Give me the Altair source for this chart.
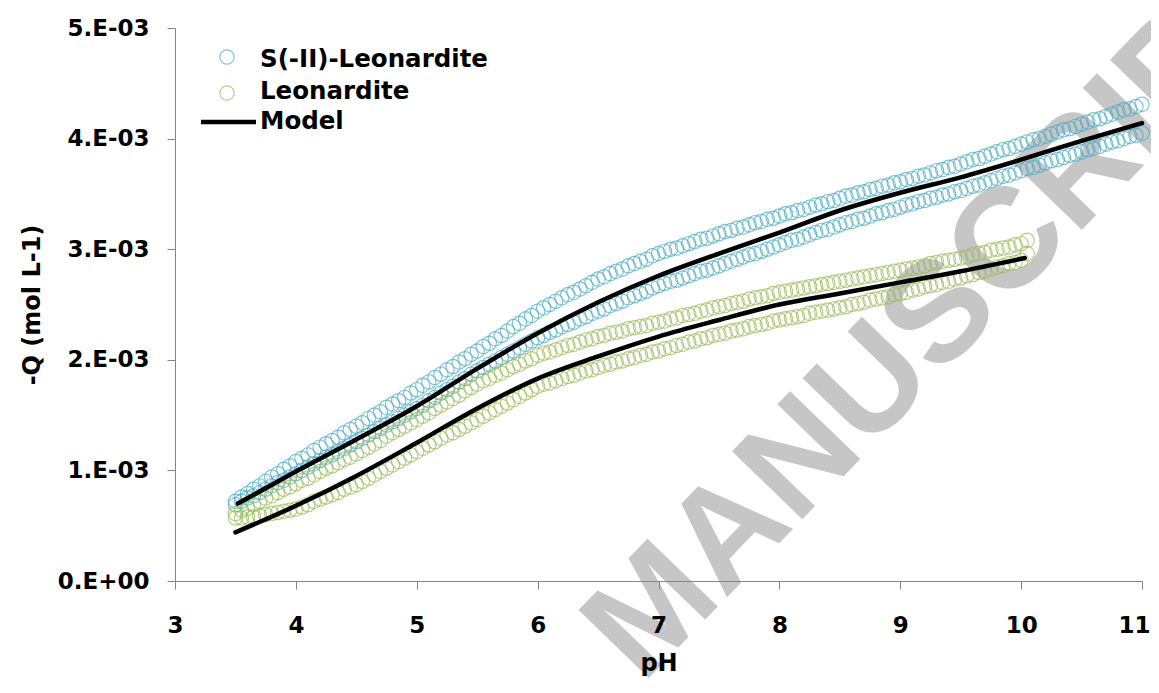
import json
import altair as alt
import pandas as pd

# ---------------- data (Q in units of 1e-3 mol/L) ----------------
ph_grid = [
    3.50, 3.55, 3.60, 3.65, 3.70, 3.75, 3.80, 3.85, 3.90, 3.95,
    4.00, 4.05, 4.10, 4.15, 4.20, 4.25, 4.30, 4.35, 4.40, 4.45,
    4.50, 4.55, 4.60, 4.65, 4.70, 4.75, 4.80, 4.85, 4.90, 4.95,
    5.00, 5.05, 5.10, 5.15, 5.20, 5.25, 5.30, 5.35, 5.40, 5.45,
    5.50, 5.55, 5.60, 5.65, 5.70, 5.75, 5.80, 5.85, 5.90, 5.95,
    6.00, 6.05, 6.10, 6.15, 6.20, 6.25, 6.30, 6.35, 6.40, 6.45,
    6.50, 6.55, 6.60, 6.65, 6.70, 6.75, 6.80, 6.85, 6.90, 6.95,
    7.00, 7.05, 7.10, 7.15, 7.20, 7.25, 7.30, 7.35, 7.40, 7.45,
    7.50, 7.55, 7.60, 7.65, 7.70, 7.75, 7.80, 7.85, 7.90, 7.95,
    8.00, 8.05, 8.10, 8.15, 8.20, 8.25, 8.30, 8.35, 8.40, 8.45,
    8.50, 8.55, 8.60, 8.65, 8.70, 8.75, 8.80, 8.85, 8.90, 8.95,
    9.00, 9.05, 9.10, 9.15, 9.20, 9.25, 9.30, 9.35, 9.40, 9.45,
    9.50, 9.55, 9.60, 9.65, 9.70, 9.75, 9.80, 9.85, 9.90, 9.95,
    10.00, 10.05, 10.10, 10.15, 10.20, 10.25, 10.30, 10.35, 10.40, 10.45,
    10.50, 10.55, 10.60, 10.65, 10.70, 10.75, 10.80, 10.85, 10.90, 10.95,
    11.00,
]

# S(-II)-Leonardite, upper branch (pH 3.50 ... 11.00)
s_upper = [
    0.72, 0.76, 0.79, 0.83, 0.86, 0.90, 0.94, 0.97, 1.01, 1.04,
    1.08, 1.11, 1.14, 1.18, 1.21, 1.24, 1.27, 1.30, 1.34, 1.37,
    1.40, 1.43, 1.47, 1.50, 1.53, 1.57, 1.60, 1.63, 1.66, 1.70,
    1.73, 1.77, 1.80, 1.84, 1.87, 1.91, 1.94, 1.98, 2.01, 2.05,
    2.08, 2.12, 2.15, 2.19, 2.22, 2.26, 2.30, 2.33, 2.37, 2.40,
    2.44, 2.47, 2.50, 2.53, 2.56, 2.59, 2.61, 2.64, 2.67, 2.70,
    2.73, 2.75, 2.78, 2.80, 2.82, 2.85, 2.87, 2.89, 2.91, 2.94,
    2.96, 2.98, 3.00, 3.01, 3.03, 3.05, 3.07, 3.09, 3.10, 3.12,
    3.14, 3.16, 3.17, 3.19, 3.20, 3.22, 3.24, 3.25, 3.27, 3.28,
    3.30, 3.32, 3.33, 3.35, 3.36, 3.38, 3.40, 3.41, 3.43, 3.44,
    3.46, 3.48, 3.49, 3.51, 3.52, 3.54, 3.55, 3.57, 3.58, 3.60,
    3.61, 3.63, 3.64, 3.66, 3.67, 3.69, 3.71, 3.72, 3.74, 3.75,
    3.77, 3.79, 3.81, 3.82, 3.84, 3.86, 3.88, 3.90, 3.91, 3.93,
    3.95, 3.97, 3.99, 4.00, 4.02, 4.04, 4.06, 4.08, 4.09, 4.11,
    4.13, 4.15, 4.17, 4.18, 4.20, 4.22, 4.24, 4.26, 4.27, 4.29,
    4.31,
]

# S(-II)-Leonardite, lower branch (pH 3.50 ... 11.00)
s_lower = [
    0.69, 0.72, 0.75, 0.77, 0.80, 0.83, 0.86, 0.89, 0.91, 0.94,
    0.97, 1.00, 1.03, 1.06, 1.09, 1.12, 1.14, 1.17, 1.20, 1.23,
    1.26, 1.29, 1.32, 1.35, 1.38, 1.41, 1.44, 1.47, 1.50, 1.53,
    1.56, 1.59, 1.63, 1.66, 1.70, 1.73, 1.76, 1.80, 1.83, 1.87,
    1.90, 1.93, 1.96, 1.99, 2.02, 2.05, 2.08, 2.11, 2.14, 2.17,
    2.20, 2.22, 2.25, 2.27, 2.30, 2.32, 2.34, 2.37, 2.39, 2.42,
    2.44, 2.46, 2.49, 2.51, 2.53, 2.56, 2.58, 2.60, 2.62, 2.65,
    2.67, 2.69, 2.71, 2.72, 2.74, 2.76, 2.78, 2.80, 2.81, 2.83,
    2.85, 2.87, 2.89, 2.91, 2.93, 2.95, 2.96, 2.98, 3.00, 3.02,
    3.04, 3.06, 3.08, 3.09, 3.11, 3.13, 3.15, 3.17, 3.18, 3.20,
    3.22, 3.24, 3.25, 3.27, 3.28, 3.30, 3.32, 3.33, 3.35, 3.36,
    3.38, 3.40, 3.41, 3.43, 3.44, 3.46, 3.47, 3.49, 3.50, 3.52,
    3.53, 3.55, 3.57, 3.58, 3.60, 3.62, 3.64, 3.66, 3.67, 3.69,
    3.71, 3.73, 3.74, 3.76, 3.78, 3.80, 3.81, 3.83, 3.85, 3.86,
    3.88, 3.90, 3.91, 3.93, 3.95, 3.97, 3.98, 4.00, 4.02, 4.03,
    4.05,
]

# Leonardite, upper branch (pH 3.50 ... 10.05)
l_upper = [
    0.61, 0.64, 0.66, 0.69, 0.72, 0.75, 0.77, 0.80, 0.83, 0.85,
    0.88, 0.91, 0.93, 0.96, 0.99, 1.02, 1.04, 1.07, 1.10, 1.12,
    1.15, 1.18, 1.21, 1.24, 1.27, 1.31, 1.34, 1.37, 1.40, 1.43,
    1.46, 1.49, 1.52, 1.56, 1.59, 1.62, 1.65, 1.68, 1.72, 1.75,
    1.78, 1.81, 1.83, 1.86, 1.88, 1.91, 1.94, 1.96, 1.99, 2.01,
    2.04, 2.06, 2.07, 2.09, 2.11, 2.13, 2.14, 2.16, 2.18, 2.19,
    2.21, 2.22, 2.24, 2.25, 2.26, 2.28, 2.29, 2.30, 2.31, 2.33,
    2.34, 2.35, 2.37, 2.38, 2.40, 2.41, 2.42, 2.44, 2.45, 2.47,
    2.48, 2.49, 2.51, 2.52, 2.53, 2.55, 2.56, 2.57, 2.58, 2.60,
    2.61, 2.62, 2.63, 2.64, 2.65, 2.66, 2.67, 2.68, 2.69, 2.70,
    2.71, 2.72, 2.73, 2.74, 2.75, 2.76, 2.77, 2.78, 2.79, 2.80,
    2.81, 2.82, 2.83, 2.84, 2.85, 2.87, 2.88, 2.89, 2.90, 2.91,
    2.92, 2.93, 2.95, 2.96, 2.97, 2.99, 3.00, 3.01, 3.02, 3.04,
    3.05, 3.08,
]

# Leonardite, lower branch (pH 3.50 ... 10.05)
l_lower = [
    0.57, 0.57, 0.58, 0.58, 0.59, 0.60, 0.61, 0.62, 0.63, 0.64,
    0.65, 0.67, 0.69, 0.72, 0.74, 0.76, 0.78, 0.80, 0.83, 0.85,
    0.87, 0.90, 0.93, 0.96, 0.99, 1.02, 1.05, 1.08, 1.11, 1.14,
    1.17, 1.20, 1.23, 1.26, 1.29, 1.32, 1.34, 1.37, 1.40, 1.43,
    1.46, 1.49, 1.52, 1.55, 1.58, 1.61, 1.64, 1.67, 1.70, 1.73,
    1.76, 1.78, 1.79, 1.81, 1.83, 1.85, 1.86, 1.88, 1.90, 1.91,
    1.93, 1.95, 1.96, 1.98, 1.99, 2.01, 2.02, 2.04, 2.05, 2.07,
    2.08, 2.10, 2.11, 2.13, 2.14, 2.16, 2.17, 2.19, 2.20, 2.22,
    2.23, 2.24, 2.26, 2.27, 2.28, 2.30, 2.31, 2.32, 2.33, 2.35,
    2.36, 2.37, 2.38, 2.39, 2.40, 2.42, 2.43, 2.44, 2.45, 2.46,
    2.47, 2.48, 2.50, 2.51, 2.52, 2.54, 2.55, 2.56, 2.57, 2.59,
    2.60, 2.61, 2.63, 2.64, 2.66, 2.67, 2.68, 2.70, 2.71, 2.73,
    2.74, 2.76, 2.77, 2.79, 2.80, 2.82, 2.84, 2.85, 2.87, 2.88,
    2.90, 2.96,
]

# Model curves
model_s_ph = [3.52, 4.0, 4.5, 5.0, 5.5, 6.0, 6.5, 7.0, 7.5, 8.0, 8.5, 9.0, 9.5, 10.0, 10.5, 11.0]
model_s_q = [0.70, 0.99, 1.28, 1.58, 1.92, 2.24, 2.52, 2.76, 2.96, 3.15, 3.35, 3.51, 3.65, 3.81, 3.98, 4.14]
model_l_ph = [3.50, 4.0, 4.5, 5.0, 5.5, 6.0, 6.5, 7.0, 7.5, 8.0, 8.5, 9.0, 9.5, 10.03]
model_l_q = [0.44, 0.68, 0.95, 1.25, 1.56, 1.83, 2.03, 2.21, 2.36, 2.50, 2.60, 2.70, 2.80, 2.92]

series_names = ["S(-II)-Leonardite", "Leonardite", "Model"]
x_ticks = [3, 4, 5, 6, 7, 8, 9, 10, 11]
y_ticks = [0, 1, 2, 3, 4, 5]
y_tick_labels = ["0.E+00", "1.E-03", "2.E-03", "3.E-03", "4.E-03", "5.E-03"]
watermark_text = ["MANUSCRIPT"]
watermark_ph = [9.33]
watermark_q = [2.41]

# ---------------- styling ----------------
BLUE = "#4bacc6"
GREEN = "#9bbb59"
AXIS_GRAY = "#868686"
FONT = "DejaVu Sans"

n_l = len(l_upper)
s_df = pd.DataFrame({
    "pH": ph_grid + ph_grid,
    "Q": s_upper + s_lower,
})
l_df = pd.DataFrame({
    "pH": ph_grid[:n_l] + ph_grid[:n_l],
    "Q": l_upper + l_lower,
})
model_df = pd.DataFrame({
    "pH": model_s_ph + model_l_ph,
    "Q": model_s_q + model_l_q,
    "curve": ["S"] * len(model_s_ph) + ["L"] * len(model_l_ph),
})
wm_df = pd.DataFrame({"pH": watermark_ph, "Q": watermark_q, "t": watermark_text})

label_expr = json.dumps(y_tick_labels) + "[round(datum.value)]"

x_enc = alt.X(
    "pH:Q",
    scale=alt.Scale(domain=[3, 11], nice=False, zero=False),
    axis=alt.Axis(
        values=x_ticks, title="pH", labelFlush=False, tickSize=8,
        labelPadding=25, titleY=82, titleBaseline="middle", zindex=1, grid=False,
        labelOffset={"condition": {"test": "datum.value == 11", "value": -8}, "value": 0},
    ),
)
y_enc = alt.Y(
    "Q:Q",
    scale=alt.Scale(domain=[0, 5], nice=False, zero=True),
    axis=alt.Axis(
        values=y_ticks, labelExpr=label_expr, title="-Q (mol L-1)", tickSize=8,
        labelPadding=18, titleX=-143, titleY=276.5, titleAngle=270,
        titleAlign="center", titleBaseline="middle", zindex=1, grid=False,
    ),
)

watermark = alt.Chart(wm_df).mark_text(
    font="Liberation Sans", fontWeight="bold", fontSize=142, color="#c6c6c6",
    angle=314, align="center", baseline="middle",
).encode(x=x_enc, y=y_enc, text="t:N")

pt_style = dict(shape="circle", filled=False, size=205, strokeWidth=1.2)
s_pts = alt.Chart(s_df).mark_point(color=BLUE, **pt_style).encode(x=x_enc, y=y_enc)
l_pts = alt.Chart(l_df).mark_point(color=GREEN, **pt_style).encode(x=x_enc, y=y_enc)

model = alt.Chart(model_df).mark_line(
    color="black", strokeWidth=4.5, interpolate="monotone", strokeCap="round"
).encode(x=x_enc, y=y_enc, detail="curve:N")

# ---------------- legend (hand placed) ----------------
one = pd.DataFrame({"k": [0]})
leg_s_sym = alt.Chart(one).mark_point(color=BLUE, **pt_style).encode(
    x=alt.value(52), y=alt.value(29))
leg_l_sym = alt.Chart(one).mark_point(color=GREEN, **pt_style).encode(
    x=alt.value(52), y=alt.value(65))
leg_m_sym = alt.Chart(one).mark_rule(color="black", strokeWidth=4.5).encode(
    x=alt.value(26), x2=alt.value(81), y=alt.value(94))
leg_text_style = dict(font=FONT, fontWeight="bold", fontSize=24.5, color="black",
                      align="left", baseline="middle")
leg_t = [
    alt.Chart(one).mark_text(**leg_text_style).encode(
        x=alt.value(85), y=alt.value(yy), text=alt.value(name))
    for name, yy in zip(series_names, [32, 64, 94])
]

chart = alt.layer(
    watermark, s_pts, l_pts, model, leg_s_sym, leg_l_sym, leg_m_sym, *leg_t
).properties(
    width=967, height=553,
    autosize=alt.AutoSizeParams(type="none"),
    padding={"left": 167, "top": 20, "right": 9, "bottom": 99},
    background="white",
).configure_view(
    stroke=None
).configure_axis(
    labelFont=FONT, labelFontWeight="bold", labelFontSize=23, labelColor="black",
    titleFont=FONT, titleFontWeight="bold", titleFontSize=24, titleColor="black",
    domainColor=AXIS_GRAY, tickColor=AXIS_GRAY, domainWidth=1, tickWidth=1,
)

chart.save("out.html", embed_options={"renderer": "svg", "actions": False})
